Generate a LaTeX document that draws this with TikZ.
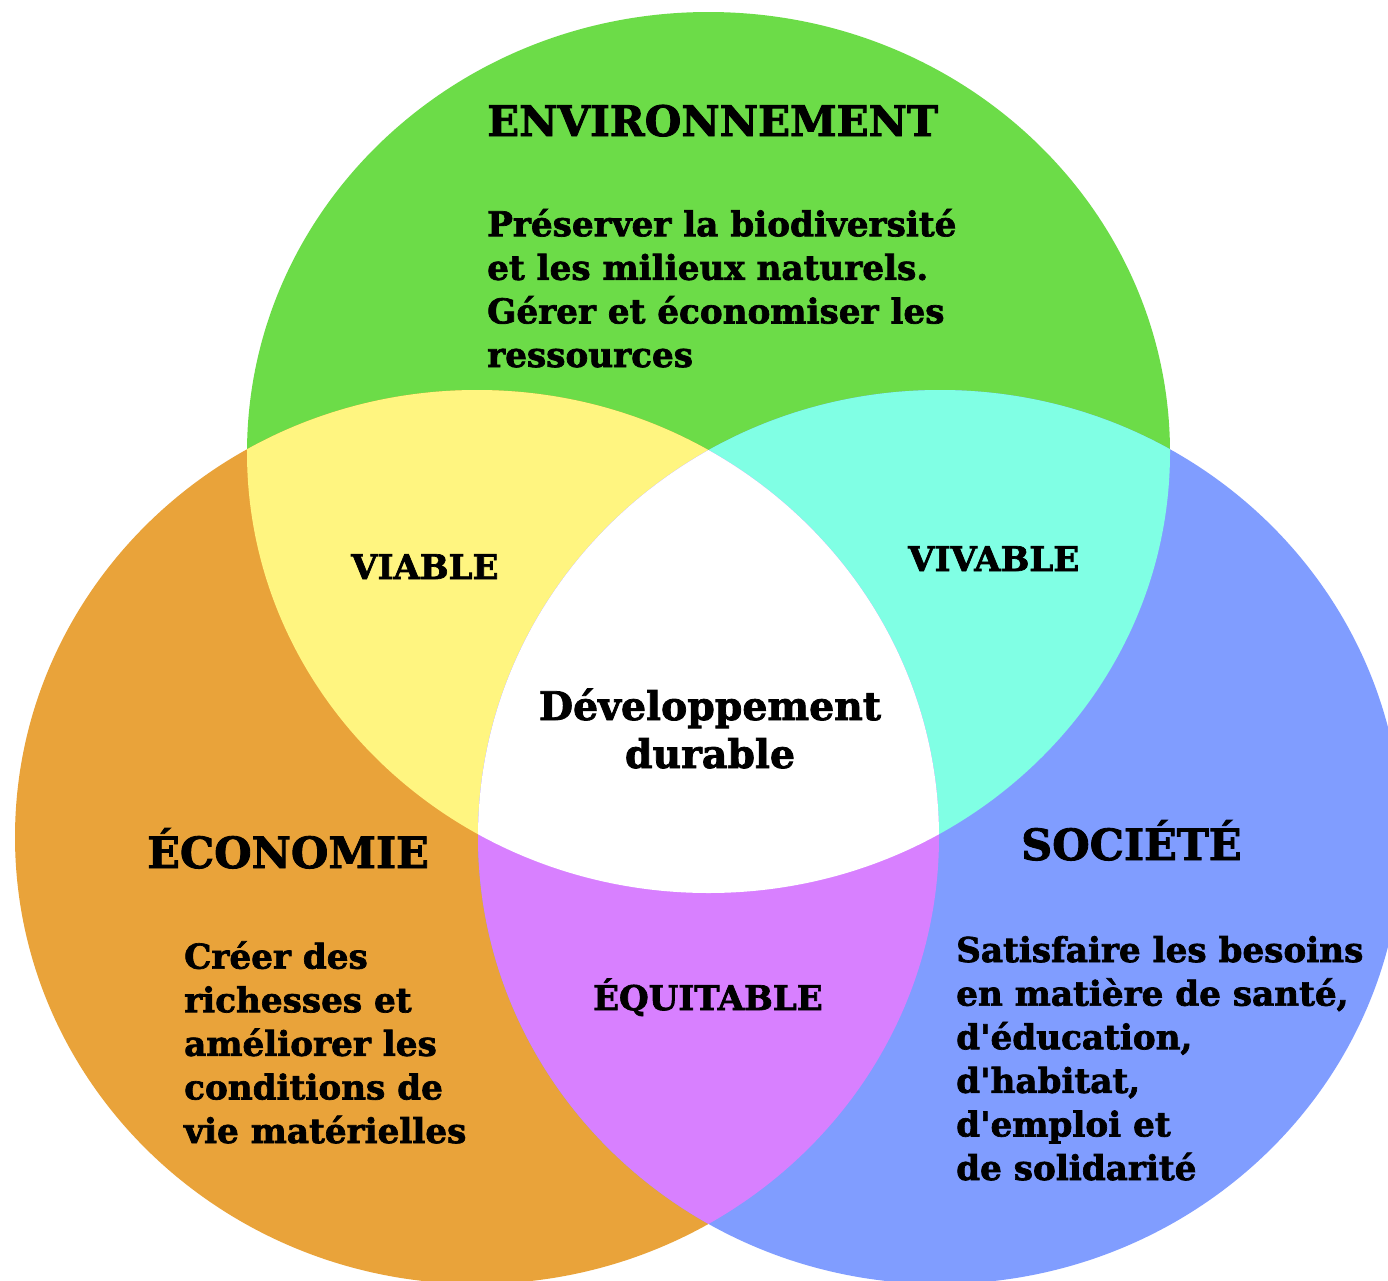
\documentclass[tikz,border=0pt]{standalone}
\usepackage{fontspec}
\setmainfont{DejaVu Serif}[BoldFeatures={FakeBold=2}]
\definecolor{envgreen}{RGB}{108,220,72}
\definecolor{ecoorange}{RGB}{233,163,58}
\definecolor{socblue}{RGB}{128,157,255}
\definecolor{viayellow}{RGB}{255,245,128}
\definecolor{vivcyan}{RGB}{128,255,228}
\definecolor{equpurple}{RGB}{216,128,255}
\begin{document}
\begin{tikzpicture}[x=1pt,y=-1pt,
  title/.style={font=\bfseries\fontsize{43}{50}\selectfont, inner sep=0pt, anchor=base west},
  body/.style={font=\bfseries\fontsize{34.2}{43.6}\selectfont, align=left, inner sep=0pt, anchor=base west},
  zone/.style={font=\bfseries\fontsize{34}{40}\selectfont, inner sep=0pt, anchor=base west},
  center/.style={font=\bfseries\fontsize{39.4}{48}\selectfont, align=center, inner sep=0pt, anchor=base}
]
\clip (0,0) rectangle (1388,1280);
\fill[white] (0,0) rectangle (1388,1280);
\fill[envgreen] (708.5,452.5) ellipse [x radius=461.5pt, y radius=440.5pt];
\fill[ecoorange] (477,837) ellipse [x radius=462pt, y radius=447pt];
\fill[socblue] (940,837) ellipse [x radius=462pt, y radius=447pt];
\begin{scope}
  \clip (708.5,452.5) ellipse [x radius=461.5pt, y radius=440.5pt];
  \fill[viayellow] (477,837) ellipse [x radius=462pt, y radius=447pt];
\end{scope}
\begin{scope}
  \clip (708.5,452.5) ellipse [x radius=461.5pt, y radius=440.5pt];
  \fill[vivcyan] (940,837) ellipse [x radius=462pt, y radius=447pt];
\end{scope}
\begin{scope}
  \clip (477,837) ellipse [x radius=462pt, y radius=447pt];
  \fill[equpurple] (940,837) ellipse [x radius=462pt, y radius=447pt];
\end{scope}
\begin{scope}
  \clip (708.5,452.5) ellipse [x radius=461.5pt, y radius=440.5pt];
  \clip (477,837) ellipse [x radius=462pt, y radius=447pt];
  \fill[white] (940,837) ellipse [x radius=462pt, y radius=447pt];
\end{scope}

\node[title, font=\bfseries\fontsize{42}{50}\selectfont] (env) at (487,136) {ENVIRONNEMENT};
\node[body] (envtxt) at (487,367) {Préserver la biodiversité\\et les milieux naturels.\\Gérer et économiser les\\ressources};
\node[zone] (viable) at (351,579) {VIABLE};
\node[zone] (vivable) at (908,571) {VIVABLE};
\node[center] (dd) at (710,768) {Développement\\durable};
\node[title] (eco) at (147,868) {ÉCONOMIE};
\node[title] (soc) at (1021,860) {SOCIÉTÉ};
\node[zone] (equi) at (593,1010) {ÉQUITABLE};
\node[body] (ecotxt) at (184,1143) {Créer des\\richesses et\\améliorer les\\conditions de\\vie matérielles};
\node[body] (soctxt) at (956,1180) {Satisfaire les besoins\\en matière de santé,\\d\textquotesingle éducation,\\d\textquotesingle habitat,\\d\textquotesingle emploi et\\de solidarité};
\end{tikzpicture}
\end{document}
